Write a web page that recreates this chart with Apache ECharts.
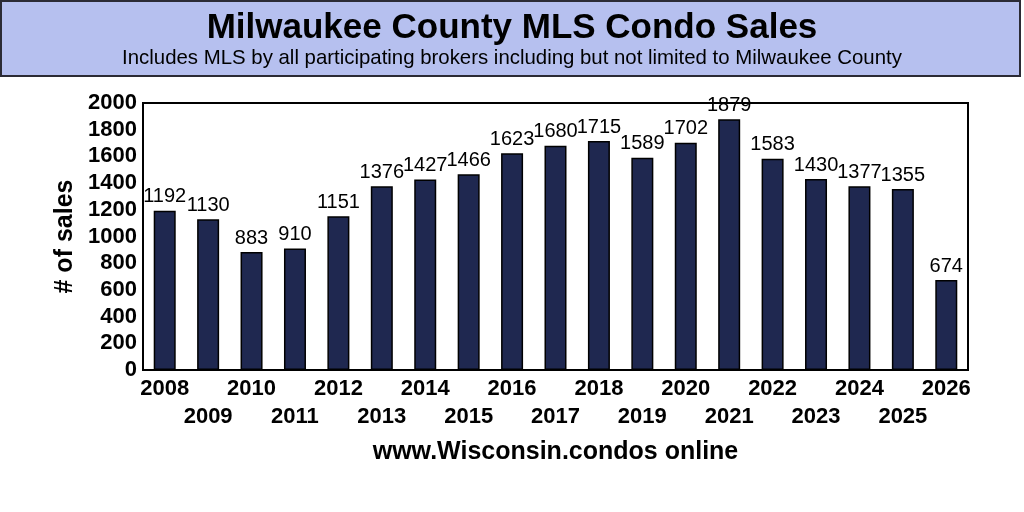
<!DOCTYPE html>
<html>
<head>
<meta charset="utf-8">
<script src="https://cdn.jsdelivr.net/npm/echarts@6/dist/echarts.min.js"></script>
<style>html,body{margin:0;padding:0;background:#fff;}#c{width:1024px;height:512px;}</style>
</head>
<body>
<div id="c"></div>
<script>
const years = ['2008','2009','2010','2011','2012','2013','2014','2015','2016','2017','2018','2019','2020','2021','2022','2023','2024','2025','2026'];
const sales = [1192,1130,883,910,1151,1376,1427,1466,1623,1680,1715,1589,1702,1879,1583,1430,1377,1355,674];
const titleText = 'Milwaukee County MLS Condo Sales';
const subtitleText = 'Includes MLS by all participating brokers including but not limited to Milwaukee County';
const yAxisName = '# of sales';
const xAxisName = 'www.Wisconsin.condos online';

const chart = echarts.init(document.getElementById('c'));
const F = '"Liberation Sans", Arial, sans-serif';
chart.setOption({
  animation: false,
  backgroundColor: '#fff',
  graphic: [
    {type:'rect', shape:{x:1,y:1,width:1019,height:75}, style:{fill:'#b6c0ef', stroke:'#2b2b35', lineWidth:2}, z:0},
    {type:'text', x:512, y:28, style:{text:titleText, fontFamily:F, fontWeight:'bold', fontSize:35, fill:'#000', textAlign:'center', textVerticalAlign:'middle'}, z:1},
    {type:'text', x:512, y:58, style:{text:subtitleText, fontFamily:F, fontSize:20.4, fill:'#000', textAlign:'center', textVerticalAlign:'middle'}, z:1}
  ],
  grid: {left:143, right:56, top:103, bottom:142, show:true, borderColor:'#000', borderWidth:2, backgroundColor:'transparent'},
  xAxis: {
    type:'category', data: years,
    axisLine:{show:true, lineStyle:{color:'#000', width:2}},
    axisTick:{show:false},
    axisLabel:{interval:0, margin:5, fontFamily:F, fontWeight:'bold', fontSize:22, color:'#000', lineHeight:28,
      formatter:(v,i)=> i%2===0 ? v+'\n' : '\n'+v},
    name: xAxisName, nameLocation:'middle', nameGap:70,
    nameTextStyle:{fontFamily:F, fontWeight:'bold', fontSize:25, color:'#000'}
  },
  yAxis: {
    type:'value', min:0, max:2000, interval:200,
    axisLine:{show:true, lineStyle:{color:'#000', width:2}},
    axisTick:{show:false},
    splitLine:{show:false},
    axisLabel:{margin:6, fontFamily:F, fontWeight:'bold', fontSize:22, color:'#000', formatter:(v)=>String(v)},
    name: yAxisName, nameLocation:'middle', nameGap:62, nameRotate:90,
    nameTextStyle:{fontFamily:F, fontWeight:'bold', fontSize:25, color:'#000'}
  },
  series: [{
    type:'bar', data: sales, barWidth:22,
    itemStyle:{color:'#1f2850', borderColor:'#000', borderWidth:1.5},
    label:{show:true, position:'top', distance:4, fontFamily:F, fontSize:20, color:'#000'}
  }]
});
</script>
</body>
</html>
